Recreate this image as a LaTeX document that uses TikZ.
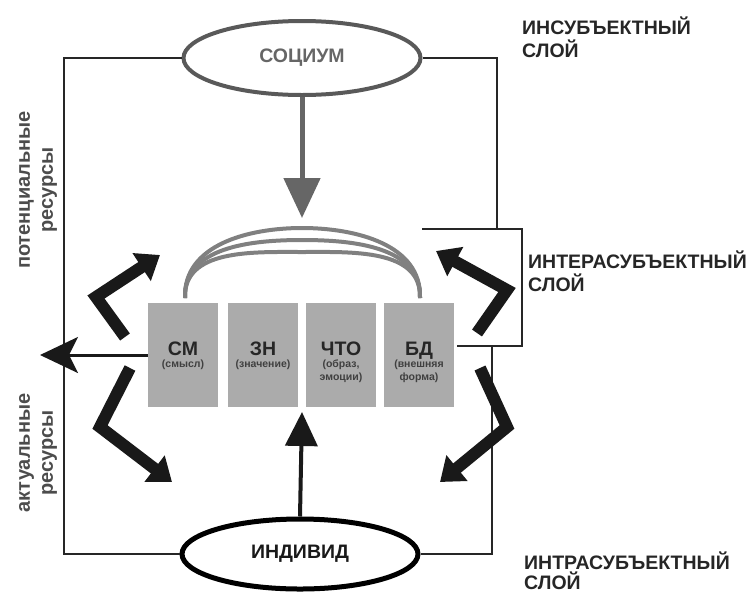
\documentclass[tikz,border=0pt]{standalone}
\usepackage{fontspec}
\setmainfont{Liberation Sans}
\usepackage{tikz}
\usetikzlibrary{shapes,arrows.meta}

\begin{document}
\begin{tikzpicture}[x=1pt,y=-1pt]
\tikzstyle{oval}=[ellipse,minimum width=237pt,minimum height=74pt,inner sep=0pt,font=\fontsize{19.5}{22}\selectfont\bfseries]
\tikzstyle{block}=[rectangle,fill=black!33,minimum width=70pt,minimum height=104pt,inner sep=0pt]
\tikzstyle{btitle}=[anchor=base,inner sep=0pt,font=\fontsize{19.5}{22}\selectfont\bfseries,text=black!85]
\tikzstyle{bsub}=[anchor=north,inner sep=0pt,align=center,font=\fontsize{10.5}{12.5}\selectfont\bfseries,text=black!75]
\tikzstyle{layer}=[anchor=base west,inner sep=0pt,align=left,font=\fontsize{19.5}{23}\selectfont\bfseries,text=black!85]
\tikzstyle{res}=[rotate=90,inner sep=0pt,align=center,font=\fontsize{20}{23}\selectfont\bfseries,text=black!70]
\tikzstyle{frame}=[line width=2.5pt,black!85]
\tikzstyle{coil}=[line width=4pt,black!50]
\tikzstyle{bent}=[line width=12pt,black!90,line join=miter,-{Triangle[length=22pt,width=32pt]}]
\useasboundingbox (0,0) rectangle (751,592);

% society and individual
\node[oval,draw=black!65,line width=4pt,text=black!60] (socium) at (302,58) {СОЦИУМ};
\node[oval,draw=black,line width=5pt,minimum width=236pt,minimum height=70pt,text=black!90] (individ) at (300,554) {ИНДИВИД};

% four blocks
\node[block] (sm) at (183,355) {};
\node[block] (zn) at (263,355) {};
\node[block] (chto) at (341,355) {};
\node[block] (bd) at (419,355) {};
\node[btitle] (smT) at (183,355) {СМ};
\node[btitle] (znT) at (263,355) {ЗН};
\node[btitle] (chtoT) at (341,355) {ЧТО};
\node[btitle] (bdT) at (419,355) {БД};
\node[bsub] (smS) at (183,360) {(смысл)};
\node[bsub] (znS) at (263,360) {(значение)};
\node[bsub] (chtoS) at (341,360) {(образ,\\эмоции)};
\node[bsub] (bdS) at (419,360) {(внешняя\\форма)};

% coils over the blocks
\foreach \t in {228,240,252}
  \draw[coil] (185,298) to[out=92,in=180] (302,\t) to[out=0,in=88] (420,298);

% layer labels
\node[layer] (insub) at (522,57) {ИНСУБЪЕКТНЫЙ\\СЛОЙ};
\node[layer] (intera) at (528,291) {ИНТЕРАСУБЪЕКТНЫЙ\\СЛОЙ};
\node[layer,font=\fontsize{19.5}{20}\selectfont\bfseries] (intra) at (524,589) {ИНТРАСУБЪЕКТНЫЙ\\СЛОЙ};
\node[res] (potres) at (38,190) {потенциальные\\ресурсы};
\node[res] (aktres) at (38,453) {актуальные\\ресурсы};

% frame lines
\coordinate (tl) at (64,58);
\coordinate (bl) at (64,554);
\coordinate (tr) at (497,58);
\coordinate (trb) at (497,229);
\coordinate (brT) at (422,229);
\coordinate (brTR) at (522,229);
\coordinate (brBR) at (522,346);
\coordinate (brB) at (457,346);
\coordinate (brr) at (492,346);
\coordinate (br) at (492,554);
\draw[frame] (socium.west) -- (tl) -- (bl) -- (individ.west);
\draw[frame] (socium.east) -- (tr) -- (trb);
\draw[frame] (brT) -- (brTR) -- (brBR) -- (brB);
\draw[frame] (brr) -- (br) -- (individ.east);

% straight arrows
\coordinate (coilTop) at (302,218);
\coordinate (blockBot) at (302,412);
\coordinate (outL) at (40,355);
\draw[line width=5pt,black!60,-{Triangle[length=40pt,width=36pt]}] (socium.south) -- (coilTop);
\draw[line width=4pt,black!90,-{Triangle[length=34pt,width=32pt]}] (individ.north) -- (blockBot);
\draw[line width=3pt,black!90,-{Stealth[length=38pt,width=36pt,inset=9pt]}] (sm.west) -- (outL);

% bent arrows
\draw[bent] (125,337) -- (96,297) -- (160,255);
\draw[bent] (130,368) -- (100,427) -- (172,482);
\draw[bent] (477,333) -- (507,290) -- (436,251);
\draw[bent] (480,368) -- (507,427) -- (440,482);
\end{tikzpicture}
\end{document}
